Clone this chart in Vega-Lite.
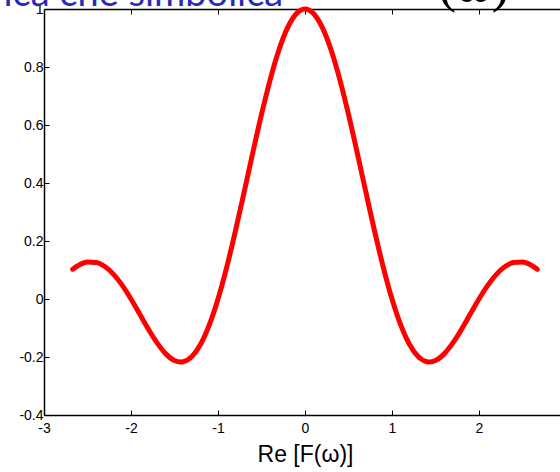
{
  "$schema": "https://vega.github.io/schema/vega-lite/v6.json",
  "width": 516,
  "height": 406,
  "autosize": {"type": "none"},
  "padding": {"left": 44, "top": 9, "right": 0, "bottom": 57},
  "background": "white",
  "config": {"view": {"stroke": null}, "font": "Liberation Sans"},
  "data": {"values": [
    {"w": -2.67, "re": 0.1027}, {"w": -2.6, "re": 0.1164}, {"w": -2.5, "re": 0.1273}, {"w": -2.4, "re": 0.1261},
    {"w": -2.3, "re": 0.1120}, {"w": -2.2, "re": 0.0851}, {"w": -2.1, "re": 0.0468}, {"w": -2.0, "re": 0.0},
    {"w": -1.9, "re": -0.0518}, {"w": -1.8, "re": -0.1039}, {"w": -1.7, "re": -0.1515}, {"w": -1.6, "re": -0.1892},
    {"w": -1.5, "re": -0.2122}, {"w": -1.43, "re": -0.2172}, {"w": -1.4, "re": -0.2162}, {"w": -1.3, "re": -0.1981},
    {"w": -1.2, "re": -0.1559}, {"w": -1.1, "re": -0.0894}, {"w": -1.0, "re": 0.0}, {"w": -0.9, "re": 0.1093},
    {"w": -0.8, "re": 0.2339}, {"w": -0.7, "re": 0.3679}, {"w": -0.6, "re": 0.5046}, {"w": -0.5, "re": 0.6366},
    {"w": -0.4, "re": 0.7568}, {"w": -0.3, "re": 0.8584}, {"w": -0.2, "re": 0.9355}, {"w": -0.1, "re": 0.9836},
    {"w": 0.0, "re": 1.0},
    {"w": 0.1, "re": 0.9836}, {"w": 0.2, "re": 0.9355}, {"w": 0.3, "re": 0.8584}, {"w": 0.4, "re": 0.7568},
    {"w": 0.5, "re": 0.6366}, {"w": 0.6, "re": 0.5046}, {"w": 0.7, "re": 0.3679}, {"w": 0.8, "re": 0.2339},
    {"w": 0.9, "re": 0.1093}, {"w": 1.0, "re": 0.0}, {"w": 1.1, "re": -0.0894}, {"w": 1.2, "re": -0.1559},
    {"w": 1.3, "re": -0.1981}, {"w": 1.4, "re": -0.2162}, {"w": 1.43, "re": -0.2172}, {"w": 1.5, "re": -0.2122},
    {"w": 1.6, "re": -0.1892}, {"w": 1.7, "re": -0.1515}, {"w": 1.8, "re": -0.1039}, {"w": 1.9, "re": -0.0518},
    {"w": 2.0, "re": 0.0}, {"w": 2.1, "re": 0.0468}, {"w": 2.2, "re": 0.0851}, {"w": 2.3, "re": 0.1120},
    {"w": 2.4, "re": 0.1261}, {"w": 2.5, "re": 0.1273}, {"w": 2.6, "re": 0.1164}, {"w": 2.67, "re": 0.1027}
  ]},
  "layer": [
    {
      "mark": {"type": "line", "color": "#ff0000", "strokeWidth": 5, "interpolate": "monotone", "strokeCap": "round", "strokeJoin": "round"},
      "encoding": {
        "x": {
          "field": "w", "type": "quantitative",
          "scale": {"domain": [-3, 2.931], "nice": false, "zero": false},
          "axis": {
            "orient": "bottom", "values": [-3, -2, -1, 0, 1, 2], "grid": false,
            "tickSize": -5, "domainColor": "black", "tickColor": "black", "domainWidth": 1.5,
            "labelColor": "black", "labelFontSize": 14, "labelPadding": 11, "labelFlush": false, "labelOverlap": false,
            "labelExpr": "replace(format(datum.value, '~g'), '−', '-')",
            "title": "Re [F(ω)]", "titleFontSize": 23, "titleFontWeight": "normal", "titleColor": "black",
            "titleX": 261, "titlePadding": 8
          }
        },
        "y": {
          "field": "re", "type": "quantitative",
          "scale": {"domain": [-0.4, 1], "nice": false, "zero": false},
          "axis": {
            "orient": "left", "values": [-0.4, -0.2, 0, 0.2, 0.4, 0.6, 0.8, 1], "grid": false,
            "tickSize": -5, "domainColor": "black", "tickColor": "black", "domainWidth": 1.5,
            "labelColor": "black", "labelFontSize": 14, "labelPadding": 6, "labelFlush": false, "labelOverlap": false,
            "labelExpr": "replace(format(datum.value, '~g'), '−', '-')",
            "title": null
          }
        }
      }
    },
    {
      "data": {"values": [{}]},
      "mark": {"type": "text", "text": "ica che simbolica", "align": "right", "baseline": "alphabetic", "fontSize": 38, "font": "Lato", "color": "#2a2ab8"},
      "encoding": {
        "x": {"datum": -0.25, "type": "quantitative",
          "axis": {"orient": "top", "values": [-3, -2, -1, 0, 1, 2], "labels": false, "title": null, "grid": false,
            "tickSize": -5, "domainColor": "black", "tickColor": "black", "domainWidth": 1.5}},
        "y": {"datum": 1.0103, "type": "quantitative"}
      }
    },
    {
      "data": {"values": [{}]},
      "mark": {"type": "text", "text": "(ω) =", "align": "left", "baseline": "alphabetic", "fontSize": 54, "font": "Liberation Serif", "color": "black"},
      "encoding": {
        "x": {"datum": 1.53, "type": "quantitative", "axis": null},
        "y": {"datum": 1.027, "type": "quantitative"}
      }
    }
  ],
  "resolve": {"axis": {"x": "independent"}}
}
